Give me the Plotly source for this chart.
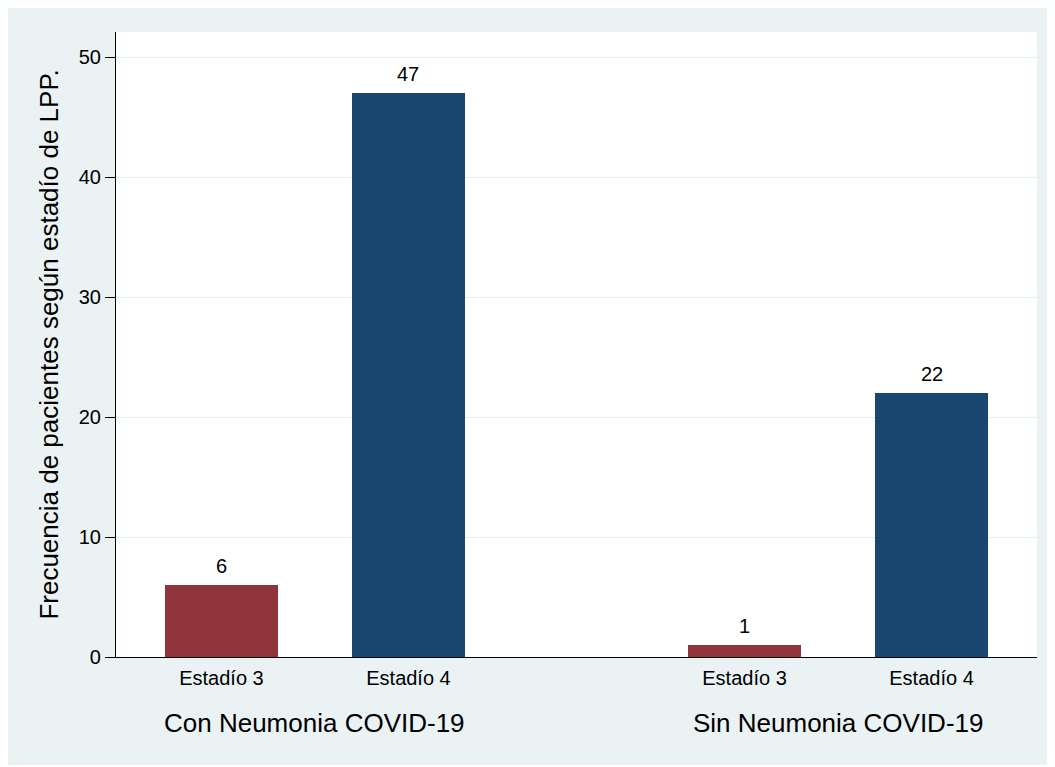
import plotly.graph_objects as go

grupos = ['Con Neumonia COVID-19', 'Sin Neumonia COVID-19']
estadios = ['Estadío 3', 'Estadío 4']
estadio3 = [6, 1]
estadio4 = [47, 22]

colores = {'Estadío 3': '#90353B', 'Estadío 4': '#1A476F'}
fondo = '#EAF2F3'
fuente = 'Liberation Sans, Arial, Helvetica, sans-serif'

# separacion entre grupos (en unidades de barra)
sep_grupo = 2.797
pos3 = [g * sep_grupo for g in range(len(grupos))]
pos4 = [g * sep_grupo + 1 for g in range(len(grupos))]

fig = go.Figure()
for nombre, xs, vals in [('Estadío 3', pos3, estadio3), ('Estadío 4', pos4, estadio4)]:
    fig.add_trace(go.Bar(x=xs, y=vals, name=nombre, marker_color=colores[nombre],
                         marker_line_width=0, width=0.604, showlegend=False))
    # etiquetas de valor sobre cada barra
    for x, v in zip(xs, vals):
        fig.add_annotation(x=x, y=v, text=str(v), showarrow=False, yanchor='bottom',
                           yshift=6, font=dict(size=20, color='black'))

tickvals = pos3 + pos4
ticktext = ['Estadío 3'] * len(pos3) + ['Estadío 4'] * len(pos4)

for g, nombre in enumerate(grupos):
    fig.add_annotation(x=(pos3[g] + pos4[g]) / 2, y=-0.1056, xref='x', yref='paper',
                       text=nombre, showarrow=False, yanchor='middle',
                       font=dict(size=26, color='black'))

fig.update_layout(
    width=1042, height=757,
    margin=dict(l=108, r=13, t=24, b=108),
    paper_bgcolor=fondo, plot_bgcolor='white',
    font=dict(family=fuente, color='black'),
    bargap=0,
)
fig.update_xaxes(range=[-0.564, 4.361], tickvals=tickvals, ticktext=ticktext,
                 tickfont=dict(size=20), showgrid=False, zeroline=False,
                 showline=True, linecolor='black', linewidth=1.2, ticks='',
                 ticklabelstandoff=3)
fig.update_yaxes(range=[0, 52.1], tickvals=[0, 10, 20, 30, 40, 50],
                 tickfont=dict(size=20), showgrid=True, gridcolor='#E3ECEE', gridwidth=1.2,
                 zeroline=False, showline=True, linecolor='black', linewidth=1.2,
                 ticks='outside', ticklen=10, tickcolor='black', tickwidth=1.2,
                 title=dict(text='Frecuencia de pacientes según estadío de LPP.',
                            font=dict(size=26), standoff=12))

fig.write_html('out.html')
